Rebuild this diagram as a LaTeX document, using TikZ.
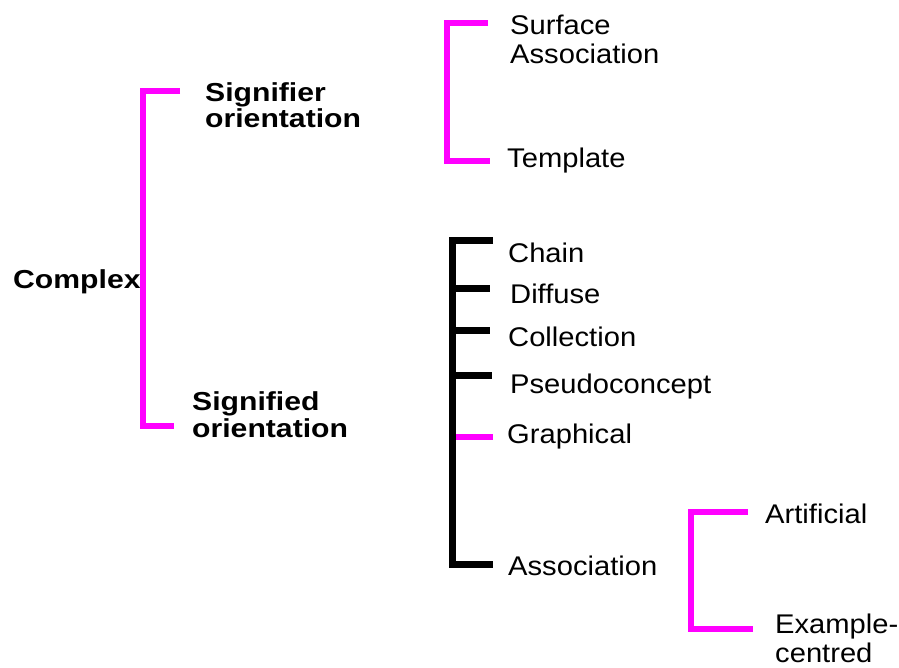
\documentclass[tikz,border=0pt]{standalone}
\usepackage{fontspec}
\setmainfont{Liberation Sans}
\newfontfamily\lblfont{Liberation Sans}[FakeStretch=1.08]
\newfontfamily\hdfont{Liberation Sans}[FakeStretch=1.16]
\definecolor{mag}{RGB}{255,0,255}
\begin{document}
\begin{tikzpicture}[x=1pt,y=-1pt,
  lbl/.style={inner sep=0pt,anchor=base west,align=left,
    font=\lblfont\fontsize{27}{29}\selectfont},
  hd/.style={inner sep=0pt,anchor=base west,align=left,
    font=\hdfont\bfseries\fontsize{26}{26.5}\selectfont},
  magline/.style={draw=mag,line width=6pt},
  blkline/.style={draw=black,line width=7pt}]
\useasboundingbox (0,0) rectangle (899,668);
% texts (multi-line nodes are placed at the baseline of their last line)
\node[hd] (complex) at (13,288) {Complex};
\node[hd] (signifier) at (205,128) {Signifier\\orientation};
\node[hd] (signified) at (192,437) {Signified\\orientation};
\node[lbl] (surface) at (510,64) {Surface\\Association};
\node[lbl] (template) at (507,168) {Template};
\node[lbl] (chain) at (508,262) {Chain};
\node[lbl] (diffuse) at (510,303) {Diffuse};
\node[lbl] (collection) at (508,346) {Collection};
\node[lbl] (pseudo) at (510,393) {Pseudoconcept};
\node[lbl] (graphical) at (507,443) {Graphical};
\node[lbl] (association) at (508,575) {Association};
\node[lbl] (artificial) at (765,523) {Artificial};
\node[lbl] (example) at (775,662) {Example-\\centred};
% bracket: Complex
\coordinate (c1) at (143,91);
\coordinate (c2) at (143,426);
\draw[magline] (180,91) -- (c1) -- (c2) -- (174,426);
% bracket: Signifier orientation
\coordinate (s1) at (447,23);
\coordinate (s2) at (447,161);
\draw[magline] (488,23) -- (s1) -- (s2) -- (490,161);
% bracket: Signified orientation
\coordinate (g1) at (452,241);
\coordinate (g2) at (452,564);
\draw[blkline] (493,241) -- (g1) -- (g2) -- (493,564);
\draw[blkline] (452,288) -- (490,288);
\draw[blkline] (452,330) -- (490,330);
\draw[blkline] (452,375) -- (492,375);
\draw[magline] (456,437) -- (493,437);
% bracket: Association
\coordinate (a1) at (691,512);
\coordinate (a2) at (691,629);
\draw[magline] (748,512) -- (a1) -- (a2) -- (753,629);
\end{tikzpicture}
\end{document}
